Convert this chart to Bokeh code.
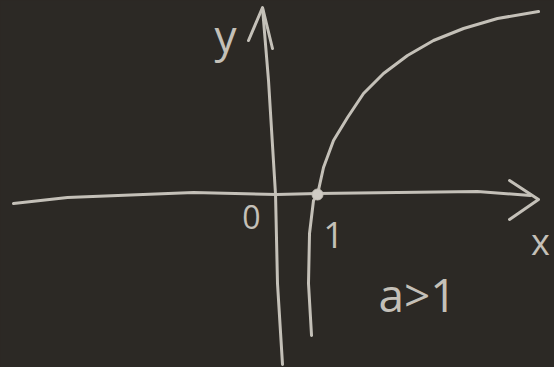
from bokeh.plotting import figure
from bokeh.models import Range1d
from bokeh.embed import file_html
from bokeh.resources import INLINE
from bokeh.core.properties import value

# Hand-drawn axes and curve (data units, 1 unit = distance 0..1)
x_axis_x = [-6.415, -5.098, -2.024, 0.0, 1.0, 4.902, 6.195]
x_axis_y = [-0.220, -0.073, 0.049, 0.0, 0.024, 0.073, -0.024]
x_arrow_x = [5.683, 6.390, 5.683]
x_arrow_y = [0.341, -0.122, -0.610]

y_axis_x = [-0.341, -0.195, -0.024, 0.024, 0.146]
y_axis_y = [4.537, 2.780, 0.0, -2.171, -4.146]
y_arrow_x = [-0.683, -0.341, -0.098]
y_arrow_y = [3.756, 4.561, 3.561]

curve_x = [0.854, 0.780, 0.805, 0.902, 1.0, 1.146, 1.390, 1.732, 2.122, 2.610,
           3.195, 3.829, 4.561, 5.390, 6.390]
curve_y = [-3.439, -2.171, -0.951, -0.146, 0.0, 0.659, 1.317, 1.878, 2.463, 2.951,
           3.390, 3.756, 4.049, 4.293, 4.463]

point_x = [1.0]
point_y = [0.0]

label_text = ["y", "0", "1", "x", "a>1"]
label_x = [-1.244, -0.610, 1.390, 6.439, 3.439]
label_y = [3.900, -0.540, -0.990, -1.150, -2.420]
label_size = ["44px", "32px", "36px", "36px", "46px"]

BG = "#2c2925"
INK = "#c4c0b8"

p = figure(width=554, height=367, output_backend="svg", toolbar_location=None,
           x_range=Range1d(-6.732, 6.780), y_range=Range1d(-4.220, 4.732),
           min_border=0, background_fill_color=BG, border_fill_color=BG)
p.outline_line_color = None
p.xaxis.visible = False
p.yaxis.visible = False
p.grid.visible = False

p.line(x_axis_x, x_axis_y, line_color=INK, line_width=3, line_cap="round", line_join="round")
p.line(x_arrow_x, x_arrow_y, line_color=INK, line_width=3, line_cap="round", line_join="round")
p.line(y_axis_x, y_axis_y, line_color=INK, line_width=3, line_cap="round", line_join="round")
p.line(y_arrow_x, y_arrow_y, line_color=INK, line_width=3, line_cap="round", line_join="round")
p.line(curve_x, curve_y, line_color=INK, line_width=3, line_cap="round", line_join="round")
p.scatter(point_x, point_y, size=11, fill_color="#cfcbc4", line_color=INK, line_width=1)

for t, x, y, s in zip(label_text, label_x, label_y, label_size):
    p.text(x=[x], y=[y], text=[t], text_color=INK, text_font=value("Open Sans"),
           text_font_size=s, text_align="center", text_baseline="middle")

html = file_html(p, INLINE)
html = html.replace("</head>", "<style>html,body{background:%s;}</style></head>" % BG, 1)
open("out.html", "w").write(html)
